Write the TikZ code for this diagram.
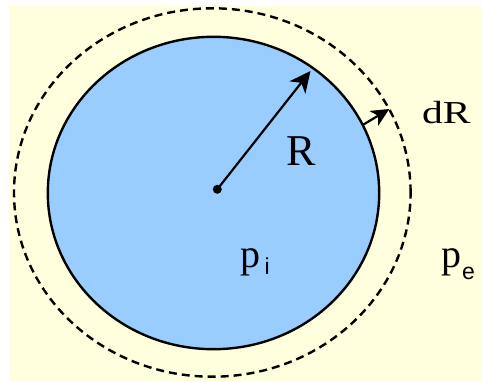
\documentclass[tikz,border=0pt]{standalone}
\usepackage{fontspec}
\setmainfont{Liberation Serif}
\setsansfont{Liberation Sans}
\usetikzlibrary{shapes.geometric,arrows.meta}
\definecolor{cream}{RGB}{255,255,221}
\definecolor{ballblue}{RGB}{153,204,255}
\begin{document}
\begin{tikzpicture}[x=1pt,y=-1pt,
  bubble/.style={ellipse, draw=black, line width=2.4pt, fill=ballblue, inner sep=0pt},
  shell/.style={ellipse, draw=black, line width=2.4pt, dash pattern=on 8pt off 5pt, inner sep=0pt},
  vec/.style={-{Stealth[length=21pt,width=20pt,inset=6pt]}, line width=2.2pt},
  smallvec/.style={-{Stealth[length=18pt,width=17pt,inset=5pt]}, line width=2.2pt},
  lbl/.style={inner sep=0pt}]
\useasboundingbox (0,0) rectangle (482,382);
\fill[white] (0,0) rectangle (482,382);
\fill[cream] (9,5) rectangle (482,381);
\node[shell, minimum width=396.6pt, minimum height=368.4pt] (shell) at (212.3,192.5) {};
\node[bubble, minimum width=331.4pt, minimum height=312.4pt] (bubble) at (213.5,193) {};
\node[circle, fill=black, inner sep=0pt, minimum size=9pt] (o) at (217.3,189.3) {};
\coordinate (rtip) at (310.5,71);
\draw[vec] (o.center) -- (rtip);
\coordinate (dra) at (362.7,125);
\coordinate (drb) at (389.3,109);
\draw[smallvec] (dra) -- (drb);
\node[lbl, font=\fontsize{44}{44}\selectfont] (R) at (301,151) {R};
\node[lbl, font=\fontsize{32}{32}\selectfont] (dR) at (446.3,113) {\scalebox{1.3}[1]{dR}};
\node[lbl, anchor=base west] (pi) at (240.5,268) {\fontsize{40}{40}\selectfont p\kern4pt\raisebox{-7pt}{\fontsize{23}{23}\sffamily i}};
\node[lbl, anchor=base west] (pe) at (441.5,268) {\fontsize{40}{40}\selectfont p\kern0.5pt\raisebox{-12pt}{\fontsize{23}{23}\sffamily e}};
\end{tikzpicture}
\end{document}
